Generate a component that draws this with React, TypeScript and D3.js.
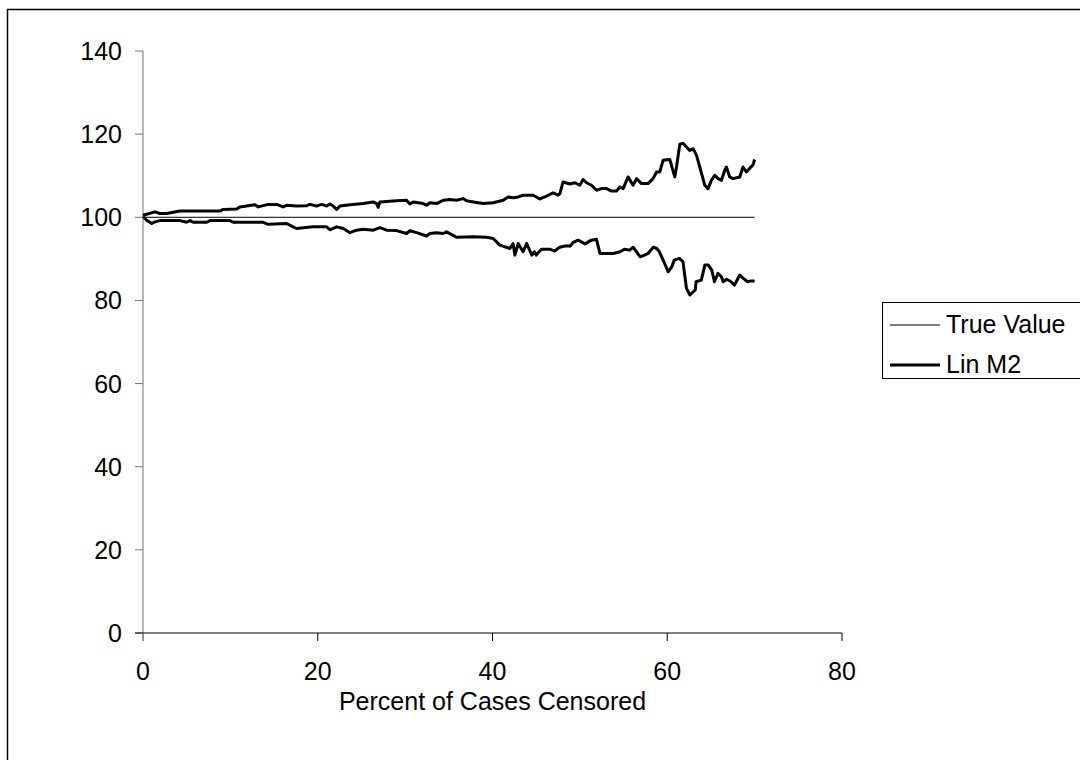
import React, { useRef, useEffect } from 'react';
import * as d3 from 'd3';

// Axis ticks
const xTicks = [0, 20, 40, 60, 80];
const yTicks = [0, 20, 40, 60, 80, 100, 120, 140];

// True value reference line
const truePct = [0, 70];
const trueVal = [100, 100];

// Lin M2 upper band (percent censored, estimate)
const upperPct = [
  0, 1.37, 1.94, 2.71, 4.23, 8.81, 9.19, 10.72, 11.1, 12.81, 13.19, 13.76, 14.33, 15.3, 16.05, 16.44,
  17.58, 18.73, 19.11, 19.87, 20.44, 21.02, 21.39, 21.77, 22.16, 22.54, 23.68, 25.2, 26.35, 26.74,
  26.92, 27.11, 29.02, 30.17, 30.55, 30.92, 32.07, 32.46, 32.83, 33.6, 34.36, 35.12, 35.89, 36.64,
  37.03, 37.79, 38.93, 40.08, 41.22, 41.79, 42.36, 42.94, 43.5, 44.65, 45.42, 46.18, 46.94, 47.51,
  47.71, 48.08, 48.85, 49.42, 49.99, 50.37, 50.76, 51.33, 51.9, 52.48, 53.05, 53.62, 54.19, 54.57,
  54.95, 55.52, 56.09, 56.48, 57.05, 57.81, 58.38, 58.77, 59.15, 59.52, 60.29, 60.86, 61.06, 61.44,
  61.81, 62.2, 62.58, 62.96, 63.35, 63.72, 64.3, 64.67, 65.06, 65.44, 65.82, 66.2, 66.58, 66.77,
  67.15, 67.53, 68.3, 68.67, 69.06, 69.44, 69.82, 70,
];
const upperVal = [
  100.5, 101.3, 100.9, 100.9, 101.5, 101.5, 101.9, 102.0, 102.5, 103.0, 102.5, 102.8, 103.1, 103.1, 102.5, 102.9,
  102.7, 102.8, 103.1, 102.7, 103.1, 102.7, 103.2, 102.7, 101.9, 102.7, 103.0, 103.3, 103.7, 103.3,
  102.4, 103.7, 104.0, 104.1, 103.2, 103.7, 103.3, 102.9, 103.5, 103.3, 104.1, 104.3, 104.1, 104.5,
  104.0, 103.7, 103.3, 103.5, 104.1, 104.9, 104.7, 104.9, 105.3, 105.3, 104.4, 105.1, 105.9, 105.3,
  105.7, 108.5, 108.0, 108.3, 107.7, 109.1, 108.3, 107.7, 106.5, 106.9, 106.9, 106.3, 106.3, 107.3,
  106.9, 109.7, 107.7, 109.3, 108.1, 108.1, 109.3, 110.9, 110.9, 113.7, 113.9, 109.7, 112.1, 117.6,
  117.8, 116.9, 116.1, 116.5, 114.9, 112.1, 107.7, 106.9, 108.9, 110.1, 109.3, 108.9, 111.3, 112.1,
  109.7, 109.3, 109.7, 112.1, 110.9, 111.8, 112.6, 113.9,
];

// Lin M2 lower band
const lowerPct = [
  0, 0.42, 1.0, 1.37, 1.94, 4.23, 5.0, 5.38, 5.75, 7.29, 7.66, 9.95, 10.33, 13.76, 14.33, 16.44,
  17.19, 17.58, 18.34, 19.48, 21.02, 21.39, 22.16, 22.92, 23.68, 24.45, 25.2, 26.35, 27.11, 27.88,
  29.02, 30.17, 30.55, 31.31, 32.46, 32.83, 33.6, 34.36, 34.74, 35.89, 37.79, 39.32, 40.08, 40.84,
  41.99, 42.36, 42.56, 42.94, 43.5, 43.9, 44.5, 44.8, 45.0, 45.6, 46.6, 47.1, 47.7, 48.3, 48.9, 49.2,
  49.8, 50.6, 51.3, 51.9, 52.3, 53.8, 54.6, 55.1, 55.7, 56.1, 56.9, 57.4, 57.8, 58.4, 58.8, 59.1,
  59.7, 60.1, 60.5, 60.8, 61.4, 61.8, 62.2, 62.6, 63.2, 63.3, 63.9, 64.3, 64.7, 65.1, 65.4, 65.8,
  66.2, 66.4, 66.8, 67.3, 67.7, 68.3, 68.7, 69.2, 69.6, 70,
];
const lowerVal = [
  100.2, 99.3, 98.5, 98.9, 99.2, 99.2, 98.8, 99.2, 98.8, 98.8, 99.2, 99.2, 98.8, 98.8, 98.3, 98.5,
  97.7, 97.3, 97.5, 97.7, 97.7, 97.0, 97.7, 97.3, 96.3, 96.9, 97.1, 96.9, 97.5, 96.9,
  96.8, 96.1, 96.8, 96.3, 95.5, 96.1, 96.3, 96.1, 96.5, 95.2, 95.3, 95.2, 94.9, 93.3,
  92.5, 93.7, 90.9, 93.7, 91.7, 93.7, 90.9, 91.7, 90.9, 92.3, 92.3, 91.9, 92.8, 93.1, 93.1, 93.9,
  94.5, 93.6, 94.5, 94.7, 91.3, 91.3, 91.7, 92.3, 92.1, 92.8, 90.5, 90.9, 91.3, 92.8, 92.5, 91.7,
  88.9, 86.9, 88.0, 89.7, 90.1, 89.3, 82.9, 81.3, 82.5, 84.5, 84.9, 88.5, 88.5, 87.3, 84.5, 86.5,
  85.7, 84.5, 85.1, 84.5, 83.7, 86.1, 85.3, 84.5, 84.7, 84.7,
];

const legendItems = [
  { label: 'True Value', width: 1 },
  { label: 'Lin M2', width: 3 },
];

const FONT = '"Liberation Sans", Arial, sans-serif';
const FONT_SIZE = 25;

const App = () => {
  const svgRef = useRef<SVGSVGElement>(null);
  const width = 1080;
  const height = 760;

  useEffect(() => {
    const svg = d3.select(svgRef.current);
    svg.selectAll('*').remove();

    const margin = { top: 51, left: 143, right: 842, bottom: 633 };

    const x = d3.scaleLinear().domain([0, 80]).range([margin.left, margin.right]);
    const y = d3.scaleLinear().domain([0, 140]).range([margin.bottom, margin.top]);

    // outer frame
    svg
      .append('rect')
      .attr('x', 7.5)
      .attr('y', 9.5)
      .attr('width', 1200)
      .attr('height', 1000)
      .attr('fill', '#fff')
      .attr('stroke', '#000')
      .attr('stroke-width', 1.5);

    // y axis
    const yAxis = svg.append('g').attr('transform', `translate(${x(0)},0)`);
    yAxis
      .append('line')
      .attr('y1', y(140))
      .attr('y2', y(0) + 8)
      .attr('stroke', '#777');
    yAxis
      .selectAll('.ytick')
      .data(yTicks)
      .enter()
      .append('line')
      .attr('x1', -8)
      .attr('x2', 0)
      .attr('y1', d => y(d))
      .attr('y2', d => y(d))
      .attr('stroke', '#777');
    yAxis
      .selectAll('.ylabel')
      .data(yTicks)
      .enter()
      .append('text')
      .attr('x', -21)
      .attr('y', d => y(d))
      .attr('dy', '0.36em')
      .attr('text-anchor', 'end')
      .attr('font-family', FONT)
      .attr('font-size', FONT_SIZE)
      .text(d => d);

    // x axis
    const xAxis = svg.append('g').attr('transform', `translate(0,${y(0)})`);
    xAxis
      .append('line')
      .attr('x1', x(0) - 8)
      .attr('x2', x(80))
      .attr('stroke', '#000');
    xAxis
      .selectAll('.xtick')
      .data(xTicks)
      .enter()
      .append('line')
      .attr('x1', d => x(d))
      .attr('x2', d => x(d))
      .attr('y1', 0)
      .attr('y2', 8)
      .attr('stroke', d => (d === 0 ? '#777' : '#000'));
    xAxis
      .selectAll('.xlabel')
      .data(xTicks)
      .enter()
      .append('text')
      .attr('x', d => x(d))
      .attr('y', 47)
      .attr('text-anchor', 'middle')
      .attr('font-family', FONT)
      .attr('font-size', FONT_SIZE)
      .text(d => d);

    svg
      .append('text')
      .attr('x', (x(0) + x(80)) / 2)
      .attr('y', 710)
      .attr('text-anchor', 'middle')
      .attr('font-family', FONT)
      .attr('font-size', FONT_SIZE)
      .text('Percent of Cases Censored');

    const line = d3
      .line<[number, number]>()
      .x(d => x(d[0]))
      .y(d => y(d[1]));

    // true value
    svg
      .append('path')
      .attr('d', line(truePct.map((p, i) => [p, trueVal[i]])))
      .attr('fill', 'none')
      .attr('stroke', '#000')
      .attr('stroke-width', 1);

    // Lin M2 bands
    [
      upperPct.map((p, i) => [p, upperVal[i]] as [number, number]),
      lowerPct.map((p, i) => [p, lowerVal[i]] as [number, number]),
    ].forEach(pts => {
      svg
        .append('path')
        .attr('d', line(pts))
        .attr('fill', 'none')
        .attr('stroke', '#000')
        .attr('stroke-width', 3)
        .attr('stroke-linejoin', 'round');
    });

    // legend
    const legend = svg.append('g');
    legend
      .append('rect')
      .attr('x', 882.5)
      .attr('y', 302.5)
      .attr('width', 300)
      .attr('height', 76)
      .attr('fill', '#fff')
      .attr('stroke', '#000');

    legendItems.forEach((item, i) => {
      const rowY = 325 + i * 40;
      legend
        .append('line')
        .attr('x1', 890)
        .attr('x2', 940)
        .attr('y1', rowY)
        .attr('y2', rowY)
        .attr('stroke', '#000')
        .attr('stroke-width', item.width);
      legend
        .append('text')
        .attr('x', 946)
        .attr('y', rowY + 8)
        .attr('font-family', FONT)
        .attr('font-size', FONT_SIZE)
        .text(item.label);
    });
  }, []);

  return (
    <svg
      ref={svgRef}
      width={width}
      height={height}
      style={{ position: 'absolute', left: 0, top: 0, background: '#fff' }}
    />
  );
};

export default App;
